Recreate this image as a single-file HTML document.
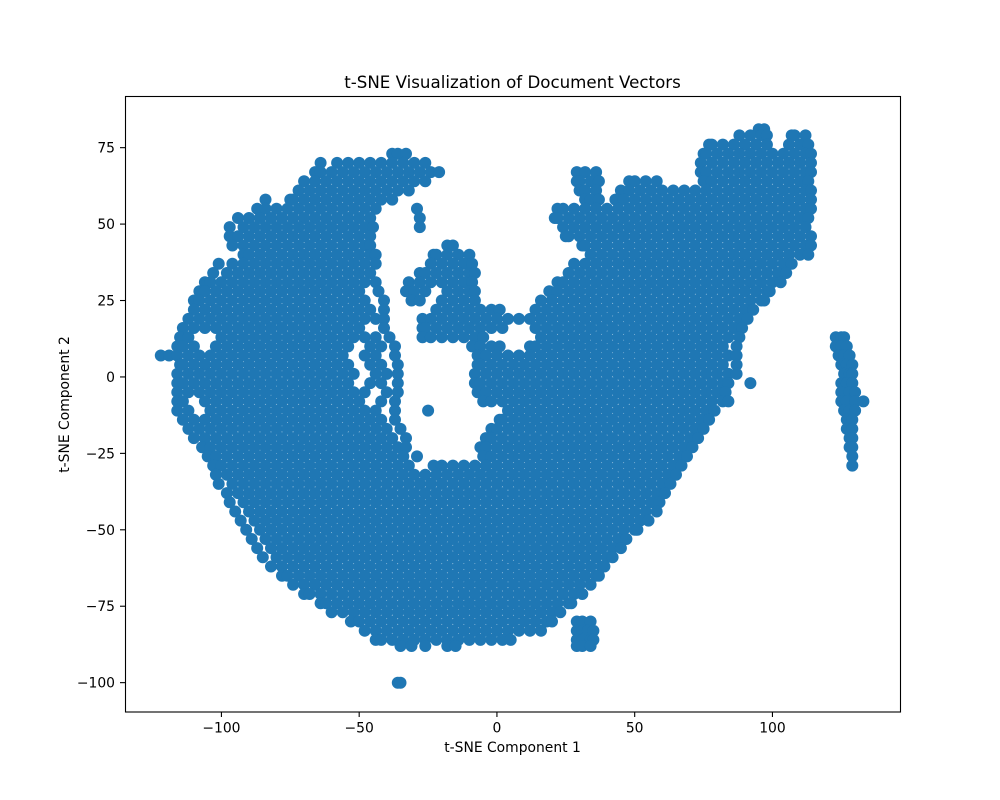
<!DOCTYPE html>
<html lang="en">
<head>
<meta charset="utf-8">
<title>t-SNE Visualization of Document Vectors</title>
<style>
html,body{margin:0;padding:0;background:#fff;width:1000px;height:800px;overflow:hidden}
svg{display:block}
text{font-family:"DejaVu Sans","Liberation Sans",sans-serif;fill:#000}
</style>
</head>
<body>
<svg id="chart" xmlns="http://www.w3.org/2000/svg" width="1000" height="800" viewBox="0 0 1000 800">
<rect x="0" y="0" width="1000" height="800" fill="#fff"/>
<text x="512.5" y="88" font-size="16.67" text-anchor="middle">t-SNE Visualization of Document Vectors</text>
<text x="512.5" y="752" font-size="13.89" text-anchor="middle">t-SNE Component 1</text>
<text x="0" y="0" font-size="13.89" text-anchor="middle" transform="translate(69 404.5) rotate(-90)">t-SNE Component 2</text>
<g id="points" fill="#1f77b4"></g>
<rect x="125.5" y="96.5" width="775" height="615.5" fill="none" stroke="#000" stroke-width="1.1"/>
<g id="xticks"></g>
<g id="yticks"></g>
</svg>
<script>
const xTickValues=[-100,-50,0,50,100];
const xTickLabels=["\u2212100","\u221250","0","50","100"];
const yTickValues=[-100,-75,-50,-25,0,25,50,75];
const yTickLabels=["\u2212100","\u221275","\u221250","\u221225","0","25","50","75"];
const x82=[95,97];
const x79=[88,92,96,98,107,108,112];
const x76=[77,78,82,86,90,94,98,106,110,113];
const x73=[-38,-36,-33,75,76,80,84,88,92,96,100,104,108,112,114];
const x70=[-64,-58,-54,-50,-46,-42,-38,-34,-30,-26,74,78,82,86,90,94,98,102,106,110,114];
const x67=[-66,-64,-60,-56,-52,-48,-44,-40,-36,-32,-28,-24,-21,29,32,36,74,76,80,84,88,92,96,100,104,108,112,114];
const x64=[-70,-66,-62,-58,-54,-50,-46,-42,-38,-34,-30,-26,29,30,34,37,48,50,54,58,75,78,82,86,90,94,98,102,106,110,113];
const x61=[-72,-68,-64,-60,-56,-52,-48,-44,-40,-36,-32,30,32,36,45,48,52,56,60,64,68,72,76,80,84,88,92,96,100,104,108,112,114];
const x58=[-84,-75,-74,-70,-66,-62,-58,-54,-50,-46,-42,-38,32,34,37,43,46,50,54,58,62,66,70,74,78,82,86,90,94,98,102,106,110,114];
const x55=[-87,-84,-80,-76,-72,-68,-64,-60,-56,-52,-48,-44,-29,22,24,28,32,36,40,44,48,52,56,60,64,68,72,76,80,84,88,92,96,100,104,108,112,114];
const x52=[-94,-90,-86,-82,-78,-74,-70,-66,-62,-58,-54,-50,-46,-28,21,22,26,30,34,38,42,46,50,54,58,62,66,70,74,78,82,86,90,94,98,102,106,110,113];
const x49=[-97,-92,-88,-84,-80,-76,-72,-68,-64,-60,-56,-52,-48,-45,-28,24,28,32,36,40,44,48,52,56,60,64,68,72,76,80,84,88,92,96,100,104,108,112];
const x46=[-97,-94,-90,-86,-82,-78,-74,-70,-66,-62,-58,-54,-50,-46,25,26,30,34,38,42,46,50,54,58,62,66,70,74,78,82,86,90,94,98,102,106,110,114];
const x43=[-96,-92,-88,-84,-80,-76,-72,-68,-64,-60,-56,-52,-48,-46,-18,-16,31,32,36,40,44,48,52,56,60,64,68,72,76,80,84,88,92,96,100,104,108,112,114];
const x40=[-92,-90,-86,-82,-78,-74,-70,-66,-62,-58,-54,-50,-46,-44,-23,-22,-18,-14,-10,34,38,42,46,50,54,58,62,66,70,74,78,82,86,90,94,98,102,106,110,113];
const x37=[-101,-96,-92,-88,-84,-80,-76,-72,-68,-64,-60,-56,-52,-48,-44,-24,-20,-16,-12,-9,28,32,36,40,44,48,52,56,60,64,68,72,76,80,84,88,92,96,100,104,107];
const x34=[-103,-98,-94,-90,-86,-82,-78,-74,-70,-66,-62,-58,-54,-50,-46,-28,-26,-22,-18,-14,-10,-8,26,30,34,38,42,46,50,54,58,62,66,70,74,78,82,86,90,94,98,102,105];
const x31=[-106,-104,-100,-96,-92,-88,-84,-80,-76,-72,-68,-64,-60,-56,-52,-48,-44,-32,-28,-24,-20,-16,-12,-9,22,24,28,32,36,40,44,48,52,56,60,64,68,72,76,80,84,88,92,96,100,103];
const x28=[-108,-106,-102,-98,-94,-90,-86,-82,-78,-74,-70,-66,-62,-58,-54,-50,-43,-33,-30,-26,-18,-14,-10,-8,19,22,26,30,34,38,42,46,50,54,58,62,66,70,74,78,82,86,90,94,98,99];
const x25=[-110,-108,-104,-100,-96,-92,-88,-84,-80,-76,-72,-68,-64,-60,-56,-52,-48,-41,-31,-28,-20,-16,-12,-8,16,20,24,28,32,36,40,44,48,52,56,60,64,68,72,76,80,84,88,92,96,97];
const x22=[-110,-106,-102,-98,-94,-90,-86,-82,-78,-74,-70,-66,-62,-58,-54,-50,-46,-41,-22,-18,-14,-10,-6,-2,1,14,18,22,26,30,34,38,42,46,50,54,58,62,66,70,74,78,82,86,90,93];
const x19=[-112,-108,-104,-100,-96,-92,-88,-84,-80,-76,-72,-68,-64,-60,-56,-52,-48,-44,-41,-27,-24,-20,-16,-12,-8,-4,0,4,8,12,16,20,24,28,32,36,40,44,48,52,56,60,64,68,72,76,80,84,88,91];
const x16=[-114,-110,-106,-102,-98,-94,-90,-86,-82,-78,-74,-70,-66,-62,-58,-54,-50,-41,-27,-26,-22,-18,-14,-10,-6,-2,2,14,18,22,26,30,34,38,42,46,50,54,58,62,66,70,74,78,82,86,89];
const x13=[-115,-112,-100,-96,-92,-88,-84,-80,-76,-72,-68,-64,-60,-56,-52,-48,-44,-39,-27,-24,-20,-16,-12,-8,-5,16,20,24,28,32,36,40,44,48,52,56,60,64,68,72,76,80,84,88,123,125,126];
const x10=[-116,-114,-110,-102,-98,-94,-90,-86,-82,-78,-74,-70,-66,-62,-58,-54,-46,-42,-37,-9,-6,-2,1,12,14,18,22,26,30,34,38,42,46,50,54,58,62,66,70,74,78,82,87,123,125,127];
const x7=[-122,-119,-116,-112,-108,-104,-100,-96,-92,-88,-84,-80,-76,-72,-68,-64,-60,-56,-48,-44,-37,-7,-4,0,4,8,12,16,20,24,28,32,36,40,44,48,52,56,60,64,68,72,76,80,84,87,124,126,128];
const x4=[-115,-114,-110,-106,-102,-98,-94,-90,-86,-82,-78,-74,-70,-66,-62,-58,-54,-46,-42,-36,-7,-6,-2,2,6,10,14,18,22,26,30,34,38,42,46,50,54,58,62,66,70,74,78,82,87,125,127,129];
const x1=[-116,-112,-108,-104,-100,-96,-92,-88,-84,-80,-76,-72,-68,-64,-60,-56,-52,-44,-40,-36,-8,-4,0,4,8,12,16,20,24,28,32,36,40,44,48,52,56,60,64,68,72,76,80,84,87,126,128,129];
const x_2=[-116,-114,-110,-106,-102,-98,-94,-90,-86,-82,-78,-74,-70,-66,-62,-58,-54,-46,-42,-36,-8,-6,-2,2,6,10,14,18,22,26,30,34,38,42,46,50,54,58,62,66,70,74,78,82,84,92,125,127,129];
const x_5=[-116,-112,-108,-104,-100,-96,-92,-88,-84,-80,-76,-72,-68,-64,-60,-56,-52,-48,-40,-36,-7,-4,0,4,8,12,16,20,24,28,32,36,40,44,48,52,56,60,64,68,72,76,80,83,125,128,130];
const x_8=[-116,-114,-106,-102,-98,-94,-90,-86,-82,-78,-74,-70,-66,-62,-58,-54,-50,-42,-37,-5,-2,2,6,10,14,18,22,26,30,34,38,42,46,50,54,58,62,66,70,74,78,82,84,125,127,130,133];
const x_11=[-116,-112,-104,-100,-96,-92,-88,-84,-80,-76,-72,-68,-64,-60,-56,-52,-48,-44,-37,-25,4,8,12,16,20,24,28,32,36,40,44,48,52,56,60,64,68,72,76,79,126,128,130];
const x_14=[-114,-110,-106,-102,-98,-94,-90,-86,-82,-78,-74,-70,-66,-62,-58,-54,-50,-46,-42,-37,1,2,6,10,14,18,22,26,30,34,38,42,46,50,54,58,62,66,70,74,77,127,129];
const x_17=[-112,-108,-104,-100,-96,-92,-88,-84,-80,-76,-72,-68,-64,-60,-56,-52,-48,-44,-40,-35,-2,0,4,8,12,16,20,24,28,32,36,40,44,48,52,56,60,64,68,72,75,127,129];
const x_20=[-110,-106,-102,-98,-94,-90,-86,-82,-78,-74,-70,-66,-62,-58,-54,-50,-46,-42,-38,-33,-4,-2,2,6,10,14,18,22,26,30,34,38,42,46,50,54,58,62,66,70,73,128,129];
const x_23=[-107,-104,-100,-96,-92,-88,-84,-80,-76,-72,-68,-64,-60,-56,-52,-48,-44,-40,-36,-33,-6,-4,0,4,8,12,16,20,24,28,32,36,40,44,48,52,56,60,64,68,71,128,129];
const x_26=[-105,-102,-98,-94,-90,-86,-82,-78,-74,-70,-66,-62,-58,-54,-50,-46,-42,-38,-34,-29,-5,-2,2,6,10,14,18,22,26,30,34,38,42,46,50,54,58,62,66,69,129];
const x_29=[-103,-100,-96,-92,-88,-84,-80,-76,-72,-68,-64,-60,-56,-52,-48,-44,-40,-36,-32,-23,-20,-16,-12,-8,-4,0,4,8,12,16,20,24,28,32,36,40,44,48,52,56,60,64,67,129];
const x_32=[-102,-98,-94,-90,-86,-82,-78,-74,-70,-66,-62,-58,-54,-50,-46,-42,-38,-34,-30,-26,-22,-18,-14,-10,-6,-2,2,6,10,14,18,22,26,30,34,38,42,46,50,54,58,62,65];
const x_35=[-101,-96,-92,-88,-84,-80,-76,-72,-68,-64,-60,-56,-52,-48,-44,-40,-36,-32,-28,-24,-20,-16,-12,-8,-4,0,4,8,12,16,20,24,28,32,36,40,44,48,52,56,60,63];
const x_38=[-98,-94,-90,-86,-82,-78,-74,-70,-66,-62,-58,-54,-50,-46,-42,-38,-34,-30,-26,-22,-18,-14,-10,-6,-2,2,6,10,14,18,22,26,30,34,38,42,46,50,54,58,61];
const x_41=[-97,-92,-88,-84,-80,-76,-72,-68,-64,-60,-56,-52,-48,-44,-40,-36,-32,-28,-24,-20,-16,-12,-8,-4,0,4,8,12,16,20,24,28,32,36,40,44,48,52,56,59];
const x_44=[-95,-90,-86,-82,-78,-74,-70,-66,-62,-58,-54,-50,-46,-42,-38,-34,-30,-26,-22,-18,-14,-10,-6,-2,2,6,10,14,18,22,26,30,34,38,42,46,50,54,58];
const x_47=[-93,-88,-84,-80,-76,-72,-68,-64,-60,-56,-52,-48,-44,-40,-36,-32,-28,-24,-20,-16,-12,-8,-4,0,4,8,12,16,20,24,28,32,36,40,44,48,52,55];
const x_50=[-91,-86,-82,-78,-74,-70,-66,-62,-58,-54,-50,-46,-42,-38,-34,-30,-26,-22,-18,-14,-10,-6,-2,2,6,10,14,18,22,26,30,34,38,42,46,50,51];
const x_53=[-89,-84,-80,-76,-72,-68,-64,-60,-56,-52,-48,-44,-40,-36,-32,-28,-24,-20,-16,-12,-8,-4,0,4,8,12,16,20,24,28,32,36,40,44,47];
const x_56=[-87,-82,-78,-74,-70,-66,-62,-58,-54,-50,-46,-42,-38,-34,-30,-26,-22,-18,-14,-10,-6,-2,2,6,10,14,18,22,26,30,34,38,42,45];
const x_59=[-85,-80,-76,-72,-68,-64,-60,-56,-52,-48,-44,-40,-36,-32,-28,-24,-20,-16,-12,-8,-4,0,4,8,12,16,20,24,28,32,36,40,42];
const x_62=[-82,-78,-74,-70,-66,-62,-58,-54,-50,-46,-42,-38,-34,-30,-26,-22,-18,-14,-10,-6,-2,2,6,10,14,18,22,26,30,34,38,39];
const x_65=[-78,-76,-72,-68,-64,-60,-56,-52,-48,-44,-40,-36,-32,-28,-24,-20,-16,-12,-8,-4,0,4,8,12,16,20,24,28,32,36,37];
const x_68=[-74,-70,-66,-62,-58,-54,-50,-46,-42,-38,-34,-30,-26,-22,-18,-14,-10,-6,-2,2,6,10,14,18,22,26,30,34];
const x_71=[-70,-68,-64,-60,-56,-52,-48,-44,-40,-36,-32,-28,-24,-20,-16,-12,-8,-4,0,4,8,12,16,20,24,28,31];
const x_74=[-64,-62,-58,-54,-50,-46,-42,-38,-34,-30,-26,-22,-18,-14,-10,-6,-2,2,6,10,14,18,22,26,27];
const x_77=[-60,-56,-52,-48,-44,-40,-36,-32,-28,-24,-20,-16,-12,-8,-4,0,4,8,12,16,20,23];
const x_80=[-53,-50,-46,-42,-38,-34,-30,-26,-22,-18,-14,-10,-6,-2,2,6,10,14,18,20,29,31,34];
const x_83=[-48,-44,-40,-36,-32,-28,-24,-20,-16,-12,-8,-4,0,4,8,12,16,29,31,33,35];
const x_86=[-44,-42,-38,-34,-30,-26,-22,-18,-14,-10,-6,-2,2,5,29,31,34,35];
const x_88=[-35,-31,-26,-18,-15,29,31,34];
const x_100=[-36,-35];
const levelY=[81,79,76,73,70,67,64,61,58,55,52,49,46,43,40,37,34,31,28,25,22,19,16,13,10,7,4,1,-2,-5,-8,-11,-14,-17,-20,-23,-26,-29,-32,-35,-38,-41,-44,-47,-50,-53,-56,-59,-62,-65,-68,-71,-74,-77,-80,-83,-86,-88,-100];
const levelX=[x82,x79,x76,x73,x70,x67,x64,x61,x58,x55,x52,x49,x46,x43,x40,x37,x34,x31,x28,x25,x22,x19,x16,x13,x10,x7,x4,x1,x_2,x_5,x_8,x_11,x_14,x_17,x_20,x_23,x_26,x_29,x_32,x_35,x_38,x_41,x_44,x_47,x_50,x_53,x_56,x_59,x_62,x_65,x_68,x_71,x_74,x_77,x_80,x_83,x_86,x_88,x_100];

const NS="http://www.w3.org/2000/svg";
const plotLeft=125,plotRight=900,plotTop=96,plotBottom=712;
const xMin=-135,xMax=146.3,yMin=-109.6,yMax=91.9;
const markerRadius=6;
function xScale(v){return plotLeft+(v-xMin)/(xMax-xMin)*(plotRight-plotLeft);}
function yScale(v){return plotBottom-(v-yMin)/(yMax-yMin)*(plotBottom-plotTop);}
const pointsGroup=document.getElementById('points');
levelY.forEach(function(yVal,i){
  levelX[i].forEach(function(xVal){
    const c=document.createElementNS(NS,'circle');
    c.setAttribute('cx',xScale(xVal).toFixed(1));
    c.setAttribute('cy',yScale(yVal).toFixed(1));
    c.setAttribute('r',markerRadius);
    
    
    pointsGroup.appendChild(c);
  });
});
const xTicksGroup=document.getElementById('xticks');
xTickValues.forEach(function(v,i){
  const px=xScale(v);
  const tick=document.createElementNS(NS,'line');
  tick.setAttribute('x1',px);tick.setAttribute('x2',px);
  tick.setAttribute('y1',plotBottom);tick.setAttribute('y2',plotBottom+5);
  tick.setAttribute('stroke','#000');tick.setAttribute('stroke-width','1.1');
  
  
  xTicksGroup.appendChild(tick);
  const label=document.createElementNS(NS,'text');
  label.setAttribute('x',px);label.setAttribute('y',plotBottom+20.5);
  label.setAttribute('font-size','13.89');label.setAttribute('text-anchor','middle');
  label.textContent=xTickLabels[i];
  
  
  xTicksGroup.appendChild(label);
});
const yTicksGroup=document.getElementById('yticks');
yTickValues.forEach(function(v,i){
  const py=yScale(v);
  const tick=document.createElementNS(NS,'line');
  tick.setAttribute('x1',plotLeft-5);tick.setAttribute('x2',plotLeft);
  tick.setAttribute('y1',py);tick.setAttribute('y2',py);
  tick.setAttribute('stroke','#000');tick.setAttribute('stroke-width','1.1');
  
  
  yTicksGroup.appendChild(tick);
  const label=document.createElementNS(NS,'text');
  label.setAttribute('x',plotLeft-10);label.setAttribute('y',py+5);
  label.setAttribute('font-size','13.89');label.setAttribute('text-anchor','end');
  label.textContent=yTickLabels[i];
  
  
  yTicksGroup.appendChild(label);
});
</script>
</body>
</html>
